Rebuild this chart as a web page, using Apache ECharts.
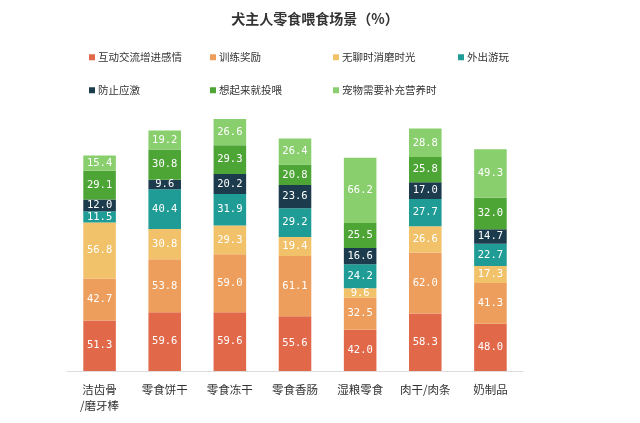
<!DOCTYPE html>
<html><head><meta charset="utf-8">
<script src="https://cdn.jsdelivr.net/npm/echarts@6/dist/echarts.min.js"></script>
<style>html,body{margin:0;padding:0;background:#fff}#c{width:640px;height:423px}</style>
</head><body><div id="c"></div>
<script>
const categories = ['洁齿骨\n/磨牙棒','零食饼干','零食冻干','零食香肠','湿粮零食','肉干/肉条','奶制品'];
const seriesNames = ['互动交流增进感情','训练奖励','无聊时消磨时光','外出游玩','防止应激','想起来就投喂','宠物需要补充营养时'];
const s1 = [51.3,59.6,59.6,55.6,42.0,58.3,48.0];
const s2 = [42.7,53.8,59.0,61.1,32.5,62.0,41.3];
const s3 = [56.8,30.8,29.3,19.4,9.6,26.6,17.3];
const s4 = [11.5,40.4,31.9,29.2,24.2,27.7,22.7];
const s5 = [12.0,9.6,20.2,23.6,16.6,17.0,14.7];
const s6 = [29.1,30.8,29.3,20.8,25.5,25.8,32.0];
const s7 = [15.4,19.2,26.6,26.4,66.2,28.8,49.3];
const values = [s1,s2,s3,s4,s5,s6,s7];
const colors = ['#E2684A','#EE9E5C','#F2C26A','#1F9C96','#1C3B4D','#4DA536','#8ACF6E'];
const legendPos = [[89,52],[210,52],[333,52],[458,52],[89,85],[210,85],[333,85]];

const chart = echarts.init(document.getElementById('c'));
chart.setOption({
  backgroundColor:'#fff',
  animation:false,
  color: colors,
  title:{text:'犬主人零食喂食场景（%）',left:310,textAlign:'center',top:7,
    textStyle:{fontSize:14,fontWeight:'bold',color:'#333',fontFamily:'Noto Sans CJK SC'}},
  legend: seriesNames.map((n,i)=>({data:[n],left:legendPos[i][0],top:legendPos[i][1],padding:0,
    icon:'rect',itemWidth:6,itemHeight:6,itemGap:4,
    textStyle:{fontSize:10.5,color:'#333',fontFamily:'Noto Sans CJK SC',padding:[0,0,0,-2]}})),
  grid:{left:67,right:117,top:115,bottom:52},
  xAxis:{type:'category',data:categories,
    axisLine:{lineStyle:{color:'#ddd'}},axisTick:{show:false},
    axisLabel:{interval:0,fontSize:11.5,color:'#333',margin:11,lineHeight:16,fontFamily:'Noto Sans CJK SC'}},
  yAxis:{type:'value',min:0,max:260,show:false,splitLine:{show:false}},
  series: seriesNames.map((n,i)=>({name:n,type:'bar',stack:'a',barWidth:'50%',data:values[i],
    itemStyle:{color:colors[i]},
    label:{show:true,position:'inside',color:'#fff',fontSize:10.5,fontFamily:'DejaVu Sans Mono',
      formatter:p=>p.value.toFixed(1)}}))
});
</script></body></html>
